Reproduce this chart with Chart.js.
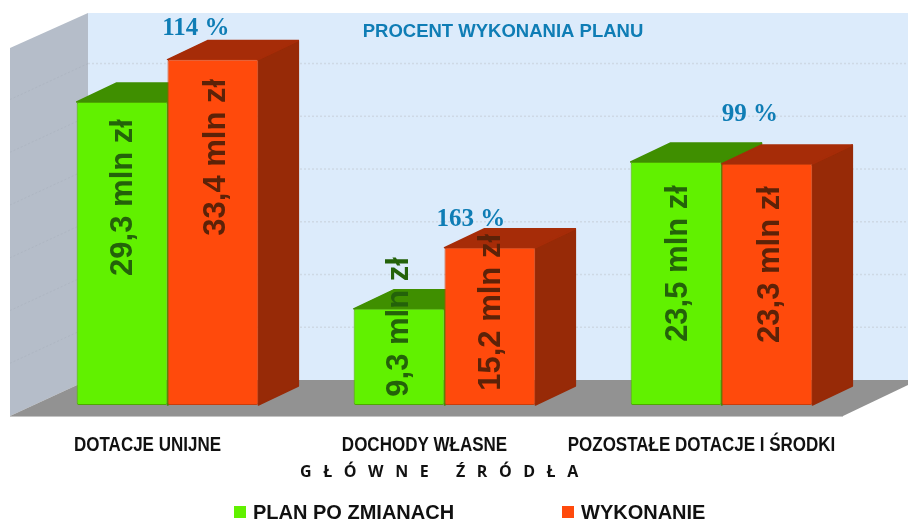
<!DOCTYPE html>
<html lang="pl">
<head>
<meta charset="utf-8">
<title>Główne źródła</title>
<script src="https://cdn.jsdelivr.net/npm/chart.js@4/dist/chart.umd.js"></script>
<style>
  html, body { margin: 0; padding: 0; background: #fff; }
  canvas { display: block; }
</style>
</head>
<body>
<canvas id="sourcesChart" width="908" height="521"></canvas>
<script>
const categories = ['DOTACJE UNIJNE', 'DOCHODY WŁASNE', 'POZOSTAŁE DOTACJE I ŚRODKI'];
const planValues = [29.3, 9.3, 23.5];
const actualValues = [33.4, 15.2, 23.3];
const percentLabels = ['114 %', '163 %', '99 %'];
const gridValues = [5.1, 10.2, 15.3, 20.4, 25.5, 30.6];

const BLUE = '#0f7db5';
const INK = '#111';
const DEPTH_X = 40;
const DEPTH_Y = -19;

// how far each rotated label sits from the middle of its bar
const labelLift = [[56, 30, 20], [75, 14, 20]];
const labelShift = [[1, 0, 2], [4, 2, 4]];
const labelColors = ['#24620a', '#5c2208'];
const topColors = ['#3f8f00', '#a62c08'];
const sideColors = ['#3f8f00', '#972a07'];
const percentOffsets = [[-17, -31], [-19, -28], [-17, -49]];
const legendX = [234, 562];

function poly(ctx, pts, fill, round) {
  ctx.fillStyle = fill;
  ctx.beginPath();
  pts.forEach((p, i) => i ? ctx.lineTo(p[0], p[1]) : ctx.moveTo(p[0], p[1]));
  ctx.closePath();
  ctx.fill();
  if (round) {
    ctx.strokeStyle = fill;
    ctx.lineWidth = 1.5;
    ctx.lineJoin = 'round';
    ctx.stroke();
  }
}

const roomPlugin = {
  id: 'room',
  beforeDatasetsDraw(chart) {
    const { ctx, chartArea: a, scales: { y } } = chart;
    const backX = 88;
    const backY = a.bottom - 25;
    const frontY = a.bottom + 11;
    ctx.save();

    poly(ctx, [[backX, a.top + 1], [chart.width, a.top + 1], [chart.width, backY], [backX, backY]], '#dcebfb');
    poly(ctx, [[10, 48], [backX, a.top + 1], [backX, backY], [10, frontY]], '#b5bdc9');

    // dotted grid on the back wall, faint slanted on the side wall
    gridValues.forEach(v => {
      const py = y.getPixelForValue(v) - 25;
      ctx.strokeStyle = '#ced9e5';
      ctx.lineWidth = 1.5;
      ctx.setLineDash([2, 2]);
      ctx.beginPath();
      ctx.moveTo(backX, py);
      ctx.lineTo(chart.width, py);
      ctx.stroke();
      ctx.strokeStyle = '#aeb6c2';
      ctx.lineWidth = 1;
      ctx.beginPath();
      ctx.moveTo(backX, py);
      ctx.lineTo(10, py + 36);
      ctx.stroke();
    });
    ctx.setLineDash([]);

    poly(ctx, [[10, frontY], [843, frontY], [chart.width, backY + 5], [chart.width, backY], [backX, backY]], '#929292');
    ctx.fillStyle = '#c4c4c4';
    ctx.fillRect(10, frontY, 833, 1);

    // top and side faces of the bars, behind the library's front faces
    chart.data.datasets.forEach((ds, d) => {
      chart.getDatasetMeta(d).data.forEach(bar => {
        const l = bar.x - bar.width / 2;
        const r = bar.x + bar.width / 2;
        poly(ctx, [[r, bar.y], [r + DEPTH_X, bar.y + DEPTH_Y], [r + DEPTH_X, bar.base + DEPTH_Y], [r, bar.base]], sideColors[d], true);
        poly(ctx, [[l, bar.y], [l + DEPTH_X, bar.y + DEPTH_Y], [r + DEPTH_X, bar.y + DEPTH_Y], [r, bar.y]], topColors[d], true);
      });
    });
    ctx.restore();
  },
  afterDatasetsDraw(chart) {
    const { ctx, scales: { x } } = chart;
    ctx.save();
    ctx.textAlign = 'center';
    ctx.textBaseline = 'middle';

    chart.data.datasets.forEach((ds, d) => {
      chart.getDatasetMeta(d).data.forEach((bar, i) => {
        ctx.save();
        ctx.translate(bar.x + labelShift[d][i], (bar.y + bar.base) / 2 - labelLift[d][i]);
        ctx.rotate(-Math.PI / 2);
        ctx.font = 'bold 31px "Liberation Sans"';
        ctx.fillStyle = labelColors[d];
        ctx.fillText(ds.data[i].toFixed(1).replace('.', ',') + ' mln zł', 0, 0);
        ctx.restore();
      });
    });

    // percent sits over the back edge of the actual bar
    ctx.fillStyle = BLUE;
    ctx.font = 'bold 25px "Liberation Serif"';
    const actual = chart.getDatasetMeta(1).data;
    percentLabels.forEach((t, i) => {
      ctx.fillText(t, actual[i].x + percentOffsets[i][0], actual[i].y + percentOffsets[i][1]);
    });

    ctx.font = 'bold 18.5px "Liberation Sans"';
    ctx.fillText('PROCENT WYKONANIA PLANU', 503, 32);

    // category names are condensed in the original
    ctx.fillStyle = INK;
    ctx.font = 'bold 20px "Liberation Sans"';
    categories.forEach((c, i) => {
      ctx.save();
      ctx.translate(x.getPixelForValue(i) - 20, 445);
      ctx.scale(0.85, 1);
      ctx.fillText(c, 0, 0);
      ctx.restore();
    });

    ctx.save();
    ctx.font = 'bold 16px "Open Sans"';
    ctx.letterSpacing = '3.7px';
    ctx.fillText('G Ł Ó W N E   Ź R Ó D Ł A', 441, 472);
    ctx.restore();

    ctx.textAlign = 'left';
    ctx.font = 'bold 20px "Liberation Sans"';
    chart.data.datasets.forEach((ds, d) => {
      ctx.fillStyle = ds.backgroundColor;
      ctx.fillRect(legendX[d], 506, 12, 12);
      ctx.fillStyle = INK;
      ctx.fillText(ds.label, legendX[d] + 19, 513);
    });
    ctx.restore();
  }
};

new Chart(document.getElementById('sourcesChart'), {
  type: 'bar',
  plugins: [roomPlugin],
  data: {
    labels: categories,
    datasets: [
      { label: 'PLAN PO ZMIANACH', data: planValues, backgroundColor: '#61f100', borderColor: '#4da800', borderWidth: 1, borderSkipped: false, borderRadius: 2 },
      { label: 'WYKONANIE', data: actualValues, backgroundColor: '#ff4a0c', borderColor: '#c93c0a', borderWidth: 1, borderSkipped: false, borderRadius: 2 }
    ]
  },
  options: {
    responsive: false,
    animation: false,
    categoryPercentage: 0.656,
    barPercentage: 1,
    layout: { padding: { left: 29, right: 48, top: 12, bottom: 116 } },
    scales: {
      x: { display: false },
      y: { display: false, min: 0, max: 38 }
    },
    plugins: {
      tooltip: { enabled: false },
      legend: { display: false }
    }
  }
});
</script>
</body>
</html>
